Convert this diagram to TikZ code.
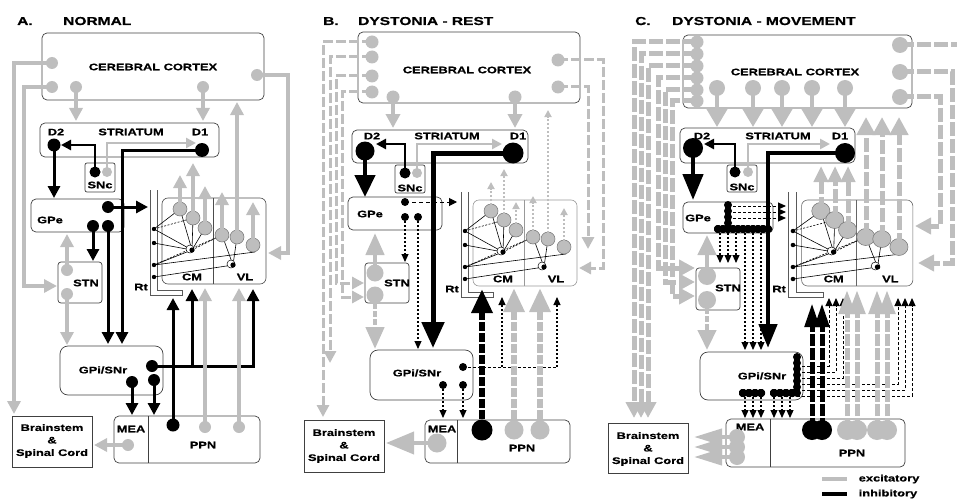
\documentclass[tikz,border=0pt]{standalone}
\usepackage{fontspec}
\newfontfamily\labfam[FakeStretch=1.35, BoldFeatures={FakeBold=0.6}]{Liberation Sans}
\usetikzlibrary{arrows.meta,fit}
\definecolor{exc}{RGB}{190,190,190}
\newcommand\labf{\labfam\bfseries\fontsize{9.5}{12.5}\selectfont}
\newcommand\ttlf{\labfam\bfseries\fontsize{11.5}{13}\selectfont}
\newcommand\GDot[2]{\fill[exc] (#1) circle (#2);}
\newcommand\KDot[2]{\fill[black] (#1) circle (#2);}
\newcommand\thal[2]{%
  \draw[#2, line width=0.6pt, rounded corners=6pt] (162,198) rectangle (266,284);
  \draw[#2, line width=0.6pt] (213,198) -- (213,284);
  \draw[draw=black!65, line width=0.5pt] (150,190) -- (150,295) -- (182,295) -- (182,290) -- (157,290) -- (157,190);
  \node[lab] at (141,287) {Rt};
  \node[lab] at (192,277) {CM};
  \node[lab] at (245,277) {VL};
  \draw[tl] (154,229) -- (180,209) (154,229) -- (192,250) (154,243) -- (192,250)
     (154,265) -- (192,250) (154,277) -- (233,265) (154,265) -- (255,252)
     (192,250) -- (180,209) (192,250) -- (193,218) (192,250) -- (205,228)
     (233,265) -- (222,235) (233,265) -- (237,237);
  \draw[tl, dash pattern=on 2pt off 1.5pt] (154,229) -- (193,218) (154,265) -- (222,235) (192,250) -- (222,235);
  \foreach \p in {(180,209),(193,218),(205,228),(222,235),(237,237),(253,245)}
    \filldraw[fill=exc, draw=black!55, line width=0.5pt] \p circle (#1);
  \foreach \p in {(154,229),(154,243),(154,265),(154,277)} \fill \p circle (2.2pt);
  \filldraw[fill=white, draw=black, line width=0.5pt] (190,249) circle (4pt);
  \fill (192,250) circle (2.6pt);
  \filldraw[fill=white, draw=black, line width=0.5pt] (231,264) circle (4pt);
  \fill (233,265) circle (2.6pt);
}
\begin{document}
\begin{tikzpicture}[x=1pt,y=-1pt,
  bx/.style={draw=black!75, line width=0.7pt, rounded corners=5pt, inner sep=0pt},
  sbx/.style={draw=black!75, line width=0.7pt, inner sep=0pt},
  lab/.style={font=\labf, inner sep=0pt},
  ttl/.style={font=\ttlf, inner sep=0pt, anchor=base west},
  tl/.style={draw=black, line width=0.6pt},
  G/.style n args={3}{draw=exc, line width=#1, -{Triangle[length=#2,width=#3]}},
  K/.style n args={3}{draw=black, line width=#1, -{Triangle[length=#2,width=#3]}},
  gdl/.style={draw=exc, line width=3pt, dash pattern=on 10pt off 3pt, -{Triangle[length=12pt,width=12pt]}},
  gdc/.style={draw=exc, line width=5pt, dash pattern=on 14pt off 3pt, -{Triangle[length=16pt,width=16pt]}},
  gdt/.style={draw=exc, line width=1.8pt, dash pattern=on 2pt off 2pt, -{Triangle[length=7pt,width=7pt]}},
  kdt/.style={draw=black, line width=1.1pt, dash pattern=on 2pt off 2pt, -{Triangle[length=8pt,width=7pt]}},
  kds/.style={draw=black, line width=1pt, dash pattern=on 3pt off 2pt},
]
\useasboundingbox (0,0) rectangle (957,500);

%================ PANEL A =================
\node[ttl] at (17,25) {A.};
\node[ttl] at (63,25) {NORMAL};
\node[bx, fit={(42,33)(264,100)}] (ctxA) {};
\node[lab] at (153,67) {CEREBRAL CORTEX};
\node[bx, fit={(40,123)(219,157)}] (strA) {};
\node[lab] at (56,132) {D2};
\node[lab] at (131,132) {STRIATUM};
\node[lab] at (200,132) {D1};
\node[bx, rounded corners=2pt, fit={(85,163)(115,192)}] (sncA) {};
\node[lab] at (100,185) {SNc};
\node[bx, fit={(31,199)(124,232)}] (gpeA) {};
\node[lab] at (50,220) {GPe};
\node[bx, rounded corners=3pt, fit={(58,262)(102,303)}] (stnA) {};
\node[lab] at (86,283) {STN};
\node[bx, rounded corners=8pt, fit={(60,346)(163,395)}] (gpiA) {};
\node[lab] at (103,370) {GPi/SNr};
\node[bx, fit={(114,416)(260,463)}] (ppnA) {};
\draw[tl, draw=black!75] (148,416) -- (148,463);
\node[lab] at (131,429) {MEA};
\node[lab] at (203,445) {PPN};
\node[sbx, fit={(12,416)(92,467)}] (bsA) {};
\node[lab, align=center] at (52,441) {Brainstem\\\&\\Spinal Cord};
\thal{7pt}{draw=black!70}

\coordinate (A1) at (52,63); \coordinate (A2) at (52,87); \coordinate (A3) at (76,87);
\coordinate (A4) at (203,87); \coordinate (A5) at (257,75);
\draw[G={3.5pt}{13pt}{13pt}] (A1) -| (14,414);
\draw[G={3.5pt}{13pt}{13pt}] (A2) -| (24,286) -- (57,286);
\draw[G={3.5pt}{13pt}{13pt}] (A3) -- (76,121);
\draw[G={3.5pt}{13pt}{13pt}] (A4) -- (203,121);
\draw[G={3.5pt}{13pt}{13pt}] (A5) -| (288,253) -- (268,253);
\draw[G={3.5pt}{13pt}{13pt}] (237,237) -- (237,102);
\draw[G={3.5pt}{13pt}{13pt}] (180,209) -- (180,175);
\draw[G={3.5pt}{13pt}{13pt}] (193,218) -- (193,163);
\draw[G={3.5pt}{13pt}{13pt}] (205,228) -- (205,186);
\draw[G={3.5pt}{13pt}{13pt}] (222,235) -- (222,192);
\draw[G={3.5pt}{13pt}{13pt}] (253,245) -- (253,202);
\coordinate (Asg) at (107,172); \coordinate (Asb) at (95,172);
\draw[G={2.5pt}{10pt}{10pt}] (Asg) |- (196,143);
\draw[K={2.5pt}{10pt}{10pt}] (Asb) |- (61,145);
\coordinate (AD2) at (54,145); \coordinate (AD1) at (202,150);
\draw[K={3pt}{12pt}{12pt}] (AD2) -- (54,198);
\draw[K={3pt}{12pt}{12pt}] (AD1) -| (122,344);
\coordinate (Ae1) at (108,207); \coordinate (Ae2) at (93,226); \coordinate (Ae3) at (108,226);
\draw[K={3pt}{12pt}{12pt}] (Ae1) -- (148,207);
\draw[K={3pt}{12pt}{12pt}] (Ae2) -- (93,261);
\draw[K={3pt}{12pt}{12pt}] (Ae3) -- (108,344);
\coordinate (As1) at (67,270); \coordinate (As2) at (67,294);
\draw[G={3.5pt}{13pt}{13pt}] (As1) -- (67,234);
\draw[G={3.5pt}{13pt}{13pt}] (As2) -- (67,345);
\coordinate (Ai1) at (152,366); \coordinate (Ai2) at (132,382); \coordinate (Ai3) at (154,380);
\draw[K={3pt}{12pt}{12pt}] (Ai1) -| (192,289);
\draw[K={3pt}{12pt}{12pt}] (Ai1) -| (253,289);
\draw[K={3pt}{12pt}{12pt}] (Ai2) -- (132,415);
\draw[K={3pt}{12pt}{12pt}] (Ai3) -- (154,415);
\coordinate (Ap1) at (173,425); \coordinate (Ap2) at (205,427); \coordinate (Ap3) at (239,427);
\coordinate (Am) at (128,445);
\draw[K={3pt}{12pt}{12pt}] (Ap1) -- (173,298);
\draw[G={3.5pt}{13pt}{13pt}] (Ap2) -- (205,288);
\draw[G={3.5pt}{13pt}{13pt}] (Ap3) -- (239,288);
\draw[G={3.5pt}{13pt}{13pt}] (Am) -- (94,445);
\GDot{A1}{6pt} \GDot{A2}{6pt} \GDot{A3}{6pt} \GDot{A4}{6pt} \GDot{A5}{6pt}
\GDot{Asg}{5pt} \GDot{As1}{6pt} \GDot{As2}{6pt} \GDot{Ap2}{6pt} \GDot{Ap3}{6pt} \GDot{Am}{6pt}
\KDot{AD2}{6.5pt} \KDot{AD1}{7pt} \KDot{Asb}{5.5pt}
\KDot{Ae1}{6pt} \KDot{Ae2}{6pt} \KDot{Ae3}{6pt}
\KDot{Ai1}{6pt} \KDot{Ai2}{6pt} \KDot{Ai3}{6pt} \KDot{Ap1}{6.5pt}

%================ PANEL B =================
\node[ttl] at (323,25) {B.};
\node[ttl] at (358,25) {DYSTONIA - REST};
\node[bx, fit={(358,32)(580,103)}] (ctxB) {};
\node[lab] at (467,70) {CEREBRAL CORTEX};
\node[bx, fit={(352,130)(528,163)}] (strB) {};
\node[lab] at (372,136) {D2};
\node[lab] at (447,136) {STRIATUM};
\node[lab] at (518,136) {D1};
\node[bx, rounded corners=2pt, fit={(395,165)(425,193)}] (sncB) {};
\node[lab] at (410,188) {SNc};
\node[bx, fit={(348,197)(442,230)}] (gpeB) {};
\node[lab] at (370,214) {GPe};
\node[bx, rounded corners=3pt, fit={(365,263)(409,303)}] (stnB) {};
\node[lab] at (397,283) {STN};
\node[bx, rounded corners=8pt, fit={(370,350)(473,400)}] (gpiB) {};
\node[lab] at (417,373) {GPi/SNr};
\node[bx, fit={(425,420)(570,463)}] (ppnB) {};
\draw[tl, draw=black!75] (457,420) -- (457,463);
\node[lab] at (442,429) {MEA};
\node[lab] at (522,448) {PPN};
\node[sbx, fit={(304,420)(384,472)}] (bsB) {};
\node[lab, align=center] at (344,446) {Brainstem\\\&\\Spinal Cord};
\begin{scope}[shift={(311,2)}]
\thal{7pt}{draw=black!40}
\end{scope}

\coordinate (B1) at (372,42); \coordinate (B2) at (372,57); \coordinate (B3) at (372,76); \coordinate (B4) at (372,92);
\draw[gdl] (B1) -| (323,417);
\draw[gdl] (B2) -| (330,363);
\draw[gdl] (B3) -| (336,283) -- (364,283);
\draw[gdl] (B4) -| (342,297) -- (364,297);
\coordinate (B5) at (558,60); \coordinate (B6) at (558,87);
\draw[gdl] (B5) -| (603,268) -- (579,268);
\draw[gdl] (B6) -| (588,249);
\coordinate (B7) at (393,97); \coordinate (B8) at (515,97);
\draw[G={3.5pt}{14pt}{14pt}] (B7) -- (393,128);
\draw[G={3.5pt}{14pt}{14pt}] (B8) -- (515,128);
\draw[gdt] (548,241) -- (548,110);
\draw[gdt] (491,213) -- (491,182);
\draw[gdt] (504,222) -- (504,169);
\draw[gdt] (516,232) -- (516,202);
\draw[gdt] (533,239) -- (533,196);
\draw[gdt] (564,249) -- (564,208);
\coordinate (Bsb) at (405,173); \coordinate (Bsg) at (417,173);
\draw[G={2.5pt}{10pt}{10pt}] (Bsg) |- (502,144);
\draw[K={2.5pt}{10pt}{10pt}] (Bsb) |- (376,144);
\coordinate (BD2) at (365,151); \coordinate (BD1) at (513,153);
\draw[K={4.5pt}{22pt}{20pt}] (BD2) -- (365,197);
\draw[K={5pt}{26pt}{22pt}] (BD1) -| (433,348);
\coordinate (Be1) at (405,202); \coordinate (Be2) at (405,217); \coordinate (Be3) at (418,217);
\draw[draw=black, line width=1pt, dash pattern=on 4pt off 3pt, -{Triangle[length=8pt,width=8pt]}] (Be1) -- (457,202);
\draw[kdt] (Be2) -- (405,262);
\draw[kdt] (Be3) -- (418,349);
\coordinate (Bs1) at (375,273); \coordinate (Bs2) at (375,295);
\draw[G={4.5pt}{22pt}{18pt}] (Bs1) -- (375,233);
\draw[G={4.5pt}{22pt}{18pt}, dash pattern=on 6pt off 2pt] (Bs2) -- (375,349);
\coordinate (Bi1) at (463,367); \coordinate (Bi2) at (443,385); \coordinate (Bi3) at (463,385);
\draw[kds] (Bi1) -- (557,367);
\draw[kdt] (502,367) -- (502,297);
\draw[kdt] (557,367) -- (557,297);
\draw[kdt] (Bi2) -- (443,418);
\draw[kdt] (Bi3) -- (463,418);
\coordinate (Bp1) at (482,430); \coordinate (Bp2) at (514,430); \coordinate (Bp3) at (540,430);
\coordinate (Bm) at (437,443);
\draw[K={6pt}{24pt}{20pt}, dash pattern=on 9pt off 2pt] (Bp1) -- (482,289);
\draw[G={6pt}{24pt}{20pt}, dash pattern=on 9pt off 2pt] (Bp2) -- (514,288);
\draw[G={6pt}{24pt}{20pt}, dash pattern=on 9pt off 2pt] (Bp3) -- (540,288);
\draw[G={4pt}{28pt}{22pt}] (Bm) -- (386,443);
\GDot{B1}{6.5pt} \GDot{B2}{6.5pt} \GDot{B3}{6.5pt} \GDot{B4}{6.5pt}
\GDot{B5}{6.5pt} \GDot{B6}{6.5pt} \GDot{B7}{6.5pt} \GDot{B8}{6.5pt}
\GDot{Bsg}{5pt} \GDot{Bs1}{8.5pt} \GDot{Bs2}{8.5pt} \GDot{Bp2}{9.5pt} \GDot{Bp3}{9.5pt} \GDot{Bm}{9.5pt}
\KDot{BD2}{9.5pt} \KDot{BD1}{10.5pt} \KDot{Bsb}{5.5pt}
\KDot{Be1}{4pt} \KDot{Be2}{4pt} \KDot{Be3}{4pt}
\KDot{Bi1}{4pt} \KDot{Bi2}{4pt} \KDot{Bi3}{4pt} \KDot{Bp1}{10.5pt}

%================ PANEL C =================
\node[ttl] at (635,25) {C.};
\node[ttl] at (672,25) {DYSTONIA - MOVEMENT};
\node[bx, fit={(683,35)(912,108)}] (ctxC) {};
\node[lab] at (795,72) {CEREBRAL CORTEX};
\node[bx, fit={(680,128)(855,163)}] (strC) {};
\node[lab] at (702,136) {D2};
\node[lab] at (778,136) {STRIATUM};
\node[lab] at (840,136) {D1};
\node[bx, rounded corners=2pt, fit={(727,165)(757,192)}] (sncC) {};
\node[lab] at (742,187) {SNc};
\node[bx, fit={(683,202)(773,233)}] (gpeC) {};
\node[lab] at (698,218) {GPe};
\node[bx, rounded corners=3pt, fit={(696,268)(740,310)}] (stnC) {};
\node[lab] at (728,288) {STN};
\node[bx, rounded corners=8pt, fit={(700,352)(803,400)}] (gpiC) {};
\node[lab] at (762,376) {GPi/SNr};
\node[bx, fit={(726,419)(905,467)}] (ppnC) {};
\draw[tl, draw=black!75] (770,419) -- (770,467);
\node[lab] at (750,427) {MEA};
\node[lab] at (852,453) {PPN};
\node[sbx, fit={(608,423)(688,473)}] (bsC) {};
\node[lab, align=center] at (648,449) {Brainstem\\\&\\Spinal Cord};
\begin{scope}[shift={(793,2)}, xscale=1.07, shift={(-154,0)}]
\thal{8.5pt}{draw=black!60}
\end{scope}

\coordinate (C1) at (697,42); \coordinate (C2) at (697,54); \coordinate (C3) at (697,66);
\coordinate (C4) at (697,78); \coordinate (C5) at (697,90); \coordinate (C6) at (697,101);
\draw[gdc] (C1) -| (634,418);
\draw[gdc] (C2) -| (641,418);
\draw[gdc] (C3) -| (648,418);
\draw[gdc] (C4) -| (658,268) -- (695,268);
\draw[gdc] (C5) -| (665,282) -- (695,282);
\draw[gdc] (C6) -| (672,296) -- (695,296);
\coordinate (Cr1) at (900,45); \coordinate (Cr2) at (900,72); \coordinate (Cr3) at (900,97);
\coordinate (Cedge) at (957,45);
\draw[gdc, -] (Cr1) -- (Cedge);
\draw[gdc] (Cr2) -| (952,263) -- (918,263);
\draw[gdc] (Cr3) -| (940,226) -- (915,226);
\coordinate (Cd1) at (717,88); \coordinate (Cd2) at (753,88); \coordinate (Cd3) at (782,88);
\coordinate (Cd4) at (812,88); \coordinate (Cd5) at (845,88);
\foreach \c in {Cd1,Cd2,Cd3,Cd4,Cd5} \draw[G={4pt}{18pt}{20pt}] (\c) -- (\c |- 0,127);
\draw[gdc, -{Triangle[length=18pt,width=18pt]}] (866,237) -- (866,117);
\draw[gdc, -{Triangle[length=18pt,width=18pt]}] (882,239) -- (882,117);
\draw[gdc, -{Triangle[length=18pt,width=18pt]}] (899,247) -- (899,117);
\draw[gdc, -{Triangle[length=16pt,width=14pt]}] (821,211) -- (821,166);
\draw[gdc, -{Triangle[length=16pt,width=14pt]}] (835,220) -- (835,166);
\draw[gdc, -{Triangle[length=16pt,width=14pt]}] (848,230) -- (848,166);
\coordinate (Csb) at (735,172); \coordinate (Csg) at (748,172);
\draw[G={2.5pt}{10pt}{10pt}] (Csg) |- (830,144);
\draw[K={2.5pt}{10pt}{10pt}] (Csb) |- (704,144);
\coordinate (CD2) at (693,148); \coordinate (CD1) at (845,153);
\draw[K={4.5pt}{26pt}{20pt}] (CD2) -- (693,200);
% GPe
\foreach \y in {206,212,218} \draw[draw=black, line width=1pt, dash pattern=on 3pt off 2pt, -{Triangle[length=8pt,width=7pt]}] (728,\y) -- (786,\y);
\foreach \x in {720,728,736} \draw[kdt] (\x,229) -- (\x,263);
\foreach \x in {745,753,761} \draw[kdt] (\x,229) -- (\x,350);
\draw[K={4.5pt}{24pt}{18pt}] (CD1) -| (768,348);
\foreach \y in {205,211,217,223} \KDot{728,\y}{4pt}
\foreach \x in {718,723,...,768} \KDot{\x,229}{4pt}
% STN
\coordinate (Cs1) at (707,276); \coordinate (Cs2) at (707,300);
\draw[G={4.5pt}{20pt}{18pt}] (Cs1) -- (707,235);
\draw[G={4.5pt}{20pt}{18pt}, dash pattern=on 6pt off 2pt] (Cs2) -- (707,350);
% GPi
\draw[kds, -{Triangle[length=8pt,width=7pt]}] (797,366) -| (829,298);
\draw[kds, -{Triangle[length=8pt,width=7pt]}] (797,372) -| (836,298);
\draw[kds, -{Triangle[length=8pt,width=7pt]}] (797,378) -| (843,298);
\draw[kds, -{Triangle[length=8pt,width=7pt]}] (797,384) -| (898,298);
\draw[kds, -{Triangle[length=8pt,width=7pt]}] (797,390) -| (905,298);
\draw[kds, -{Triangle[length=8pt,width=7pt]}] (797,396) -| (912,298);
\foreach \x in {745,753,761,774,782,790} \draw[kdt] (\x,393) -- (\x,418);
\foreach \y in {357,363,...,393} \KDot{797,\y}{4pt}
\foreach \x in {743,749,755,761,774,780,786,792} \KDot{\x,393}{4pt}
% PPN
\coordinate (Cp1) at (812,430); \coordinate (Cp2) at (822,430);
\coordinate (Cp3) at (847,430); \coordinate (Cp4) at (857,430);
\coordinate (Cp5) at (877,430); \coordinate (Cp6) at (887,430);
\draw[K={5pt}{24pt}{14pt}, dash pattern=on 12pt off 2pt] (Cp1) -- (812,303);
\draw[K={5pt}{24pt}{14pt}, dash pattern=on 12pt off 2pt] (Cp2) -- (822,303);
\foreach \c in {Cp3,Cp4,Cp5,Cp6} \draw[G={5pt}{24pt}{16pt}, dash pattern=on 12pt off 2pt] (\c) -- (\c |- 0,290);
\coordinate (Cm1) at (737,437); \coordinate (Cm2) at (737,447); \coordinate (Cm3) at (737,457);
\foreach \c in {Cm1,Cm2,Cm3} \draw[G={4pt}{28pt}{16pt}] (\c) -- (\c -| 694,0);
\GDot{C1}{6.5pt} \GDot{C2}{6.5pt} \GDot{C3}{6.5pt} \GDot{C4}{6.5pt} \GDot{C5}{6.5pt} \GDot{C6}{6.5pt}
\GDot{Cr1}{8pt} \GDot{Cr2}{8pt} \GDot{Cr3}{8pt}
\GDot{Cd1}{8pt} \GDot{Cd2}{8pt} \GDot{Cd3}{8pt} \GDot{Cd4}{8pt} \GDot{Cd5}{8pt}
\GDot{Csg}{5pt} \GDot{Cs1}{9pt} \GDot{Cs2}{9pt}
\GDot{Cp3}{10pt} \GDot{Cp4}{10pt} \GDot{Cp5}{10pt} \GDot{Cp6}{10pt}
\GDot{Cm1}{8pt} \GDot{Cm2}{8pt} \GDot{Cm3}{8pt}
\KDot{CD2}{10pt} \KDot{CD1}{10pt} \KDot{Csb}{5.5pt} \KDot{Cp1}{10pt} \KDot{Cp2}{10pt}
% legend
\coordinate (L1) at (822,479); \coordinate (L2) at (822,494);
\draw[exc, line width=3.5pt] (L1) -- ++(25,0) node[lab, text=black, anchor=west, xshift=10pt] (Lexc) {excitatory};
\draw[black, line width=3.5pt] (L2) -- ++(25,0) node[lab, anchor=west, xshift=10pt] (Linh) {inhibitory};
\end{tikzpicture}
\end{document}
